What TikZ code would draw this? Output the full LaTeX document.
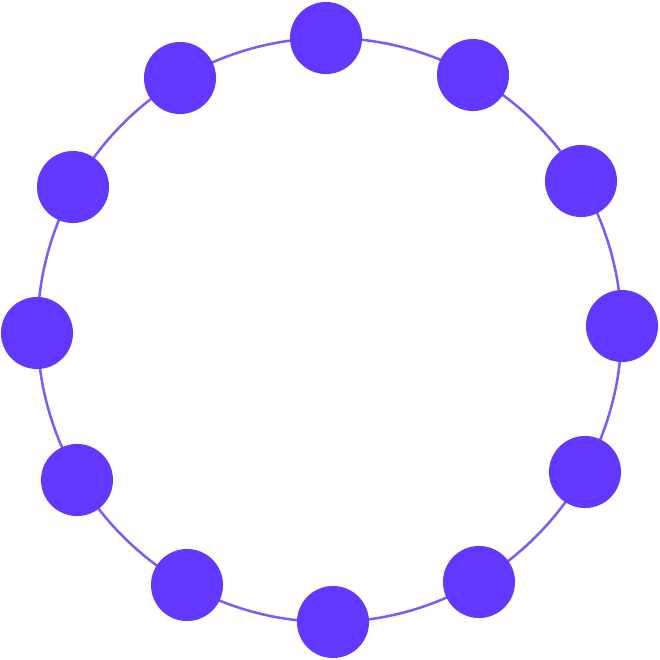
\documentclass[tikz,border=0pt]{standalone}
\definecolor{dotc}{HTML}{6238FF}
\definecolor{ringc}{HTML}{7B5CFA}
\begin{document}
\begin{tikzpicture}[x=0.01cm,y=-0.01cm,
  dot/.style={circle,fill=dotc,draw=none,minimum size=0.72cm,inner sep=0pt}]
\useasboundingbox (0,0) rectangle (660,660);
\draw[ringc,line width=0.025cm] (329.5,330) circle[radius=292];
\node[dot] (d1) at (326,38) {};
\node[dot] (d2) at (473,75) {};
\node[dot] (d3) at (581,181) {};
\node[dot] (d4) at (622,326) {};
\node[dot] (d5) at (585,472) {};
\node[dot] (d6) at (479,582) {};
\node[dot] (d7) at (333,622) {};
\node[dot] (d8) at (187,585) {};
\node[dot] (d9) at (77,480) {};
\node[dot] (d10) at (37,333) {};
\node[dot] (d11) at (73,187) {};
\node[dot] (d12) at (180,78) {};
\end{tikzpicture}
\end{document}
